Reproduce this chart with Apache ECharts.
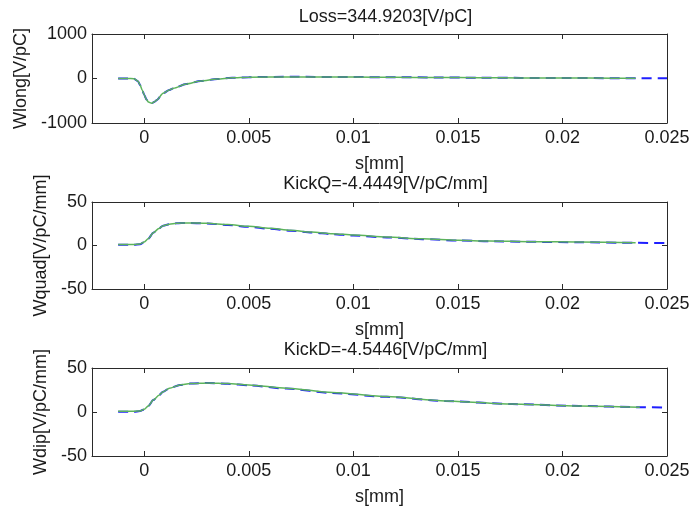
<!DOCTYPE html>
<html>
<head>
<meta charset="utf-8">
<script src="https://cdn.jsdelivr.net/npm/echarts@6/dist/echarts.min.js"></script>
<style>
  html, body { margin: 0; padding: 0; background: #fff; }
  #chart { width: 691px; height: 508px; }
</style>
</head>
<body>
<div id="chart"></div>
<script>
// Wake potentials along s[mm]: two overlaid computations per panel
const xTicks = [0, 0.005, 0.01, 0.015, 0.02, 0.025];

// Longitudinal wake Wlong [V/pC]
const sLong = [-0.00125, -0.0008, -0.0005, -0.0003, -0.0002, -0.0001, 0.0, 0.0001, 0.0002, 0.00035,
  0.0005, 0.0006, 0.0009, 0.0012, 0.0014, 0.002, 0.0027, 0.0035, 0.0042, 0.005,
  0.007, 0.01, 0.012, 0.014, 0.016, 0.018, 0.02, 0.0225, 0.0235, 0.025];
const wlongA = [0, 0, -5, -60, -146, -260, -370, -470, -530, -557,
  -520, -483, -333, -260, -220, -124, -56, -11, 15, 30,
  38, 32, 28, 24, 18, 14, 10, 8, 6, 4];
const wlongB = [0, 0, -5, -60, -146, -260, -370, -470, -530, -557,
  -520, -483, -333, -260, -220, -124, -56, -11, 15, 30,
  36, 31, 27, 22, 18, 14, 11, 8, 7];

// Quadrupole wake Wquad [V/pC/mm]
const sQuad = [-0.00125, -0.0005, -0.0002, 0, 0.0002, 0.00043, 0.0007, 0.0009, 0.0012, 0.00155,
  0.002, 0.003, 0.004, 0.005, 0.006, 0.007, 0.008, 0.009, 0.010, 0.0116,
  0.0133, 0.015, 0.0165, 0.0185, 0.0207, 0.0235, 0.025];
const wquadA = [0.8, 0.8, 1.5, 4, 8, 14.7, 19.5, 22.8, 24.5, 25.5,
  26, 25.3, 23.7, 21.5, 19.2, 17.0, 14.9, 13.1, 11.5, 9.3,
  7.3, 5.7, 4.9, 4.2, 3.8, 3.1, 2.8];
const wquadB = [1.2, 1.2, 1.8, 4, 8, 14.7, 19.5, 22.8, 24.5, 25.5,
  26, 25.6, 24.1, 22.0, 19.7, 17.5, 15.4, 13.6, 12.0, 9.8,
  7.7, 6.0, 5.2, 4.4, 4.0, 3.3];

// Dipole wake Wdip [V/pC/mm]
const sDip = [-0.00125, -0.0005, -0.0002, 0, 0.0002, 0.00043, 0.0007, 0.0009, 0.0012, 0.0017,
  0.0022, 0.0031, 0.004, 0.005, 0.0068, 0.009, 0.0116, 0.0144, 0.0176, 0.0208,
  0.0237, 0.025];
const wdipA = [0.4, 0.4, 1, 3, 7, 13.6, 19, 23, 27, 30.7,
  32.3, 33, 32, 30.3, 26.6, 21.6, 17.2, 12.4, 9, 6.9,
  5.5, 5];
const wdipB = [0.8, 0.8, 1.2, 3, 7, 13.6, 19, 23, 27, 30.7,
  32.3, 33, 32.3, 30.8, 27.1, 22.1, 17.5, 12.6, 9, 6.7,
  5.3];

const panelTitles = ['Loss=344.9203[V/pC]', 'KickQ=-4.4449[V/pC/mm]', 'KickD=-4.5446[V/pC/mm]'];
const yNames = ['Wlong[V/pC]', 'Wquad[V/pC/mm]', 'Wdip[V/pC/mm]'];
const yRanges = [[-1000, 1000, 1000], [-50, 50, 50], [-50, 50, 50]];
const xName = 's[mm]';

const FONT = 'Liberation Sans, Arial, sans-serif';
const TXT = '#1a1a1a';
const AX = '#2a2a2a';
const FS = 18;

const grids = [
  { left: 92, width: 575, top: 34, height: 89 },
  { left: 92, width: 575, top: 202, height: 87 },
  { left: 92, width: 575, top: 368, height: 88 }
];
const titleTops = [3, 170, 336];
const nameGaps = [52, 37, 37];

const pairs = (xs, ys) => ys.map((v, i) => [xs[i], v]);
const panels = [
  [sLong, wlongA, wlongB],
  [sQuad, wquadA, wquadB],
  [sDip, wdipA, wdipB]
];

const xAxes = [], yAxes = [], series = [], titles = [];
grids.forEach((g, i) => {
  g.outerBoundsMode = 'none';
  titles.push({
    text: panelTitles[i], left: g.left + g.width / 2 + 1, top: titleTops[i], textAlign: 'center',
    textStyle: { fontFamily: FONT, fontSize: FS, fontWeight: 'normal', color: TXT }
  });
  const common = {
    gridIndex: i, type: 'value', min: -0.0025, max: 0.025,
    axisLine: { show: true, onZero: false, lineStyle: { color: AX, width: 1 } },
    axisTick: { show: true, inside: true, length: 5, customValues: xTicks, lineStyle: { color: AX } },
    splitLine: { show: false }
  };
  xAxes.push(Object.assign({}, common, {
    position: 'bottom', name: xName, nameLocation: 'middle', nameGap: 32,
    nameTextStyle: { fontFamily: FONT, fontSize: FS, color: TXT },
    axisLabel: { show: true, customValues: xTicks, margin: 6, fontFamily: FONT, fontSize: FS, color: TXT, hideOverlap: false,
      formatter: v => String(+v.toFixed(4)) }
  }));
  const yr = yRanges[i];
  const ycommon = {
    gridIndex: i, type: 'value', min: yr[0], max: yr[1], interval: yr[2],
    axisLine: { show: true, onZero: false, lineStyle: { color: AX, width: 1 } },
    axisTick: { show: true, inside: true, length: 5, lineStyle: { color: AX } },
    splitLine: { show: false }
  };
  yAxes.push(Object.assign({}, ycommon, {
    position: 'left', name: yNames[i], nameLocation: 'middle', nameGap: nameGaps[i],
    nameTextStyle: { fontFamily: FONT, fontSize: FS, color: TXT },
    axisLabel: { show: true, margin: 5, fontFamily: FONT, fontSize: FS, color: TXT, hideOverlap: false,
      formatter: v => String(v) }
  }));
});
grids.forEach((g, i) => {
  xAxes.push({
    gridIndex: i, type: 'value', min: -0.0025, max: 0.025, position: 'top',
    axisLine: { show: true, onZero: false, lineStyle: { color: AX, width: 1 } },
    axisTick: { show: true, inside: true, length: 5, customValues: xTicks, lineStyle: { color: AX } },
    axisLabel: { show: false }, splitLine: { show: false }
  });
  const yr = yRanges[i];
  yAxes.push({
    gridIndex: i, type: 'value', min: yr[0], max: yr[1], interval: yr[2], position: 'right',
    axisLine: { show: true, onZero: false, lineStyle: { color: AX, width: 1 } },
    axisTick: { show: true, inside: true, length: 5, lineStyle: { color: AX } },
    axisLabel: { show: false }, splitLine: { show: false }
  });
});

panels.forEach((p, i) => {
  const [xs, a, b] = p;
  series.push({
    type: 'line', xAxisIndex: i, yAxisIndex: i, data: pairs(xs, a),
    showSymbol: false, smooth: 0.25, smoothMonotone: 'x',
    lineStyle: { color: '#1f1fff', width: 2, type: [10, 6] }, z: 2
  });
  series.push({
    type: 'line', xAxisIndex: i, yAxisIndex: i, data: pairs(xs, b),
    showSymbol: false, smooth: 0.25, smoothMonotone: 'x',
    lineStyle: { color: '#5cb35c', width: 1.5 }, z: 3
  });
});

const chart = echarts.init(document.getElementById('chart'), null, { renderer: 'canvas' });
chart.setOption({
  animation: false,
  backgroundColor: '#ffffff',
  title: titles,
  grid: grids,
  xAxis: xAxes,
  yAxis: yAxes,
  series: series
});
</script>
</body>
</html>
